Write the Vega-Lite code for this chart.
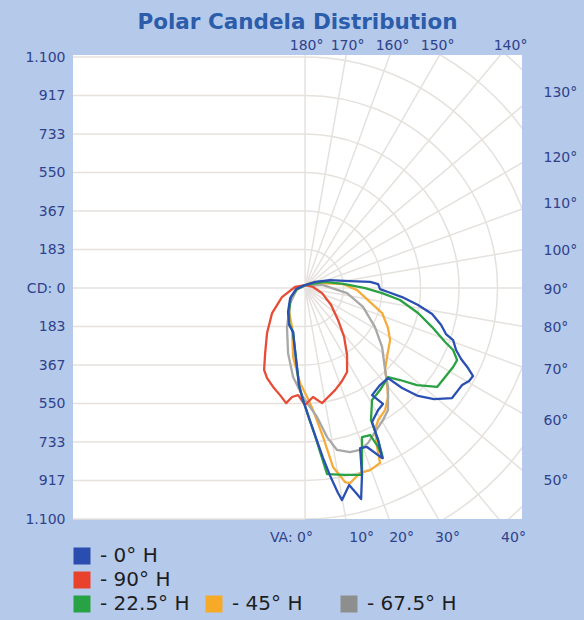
{
"$schema": "https://vega.github.io/schema/vega-lite/v6.json",
"width": 449, "height": 464,
"autosize": {"type": "none"},
"padding": {"left": 73, "top": 55, "right": 62, "bottom": 101},
"background": "#b5c9ea",
"title": {"text": "Polar Candela Distribution", "anchor": "middle", "font": "DejaVu Sans", "fontSize": 21.5, "fontWeight": "bold", "color": "#2b5dab", "offset": 5},
"resolve": {"axis": {"x": "independent", "y": "independent"}},
"datasets": {
"levels": [{"lvl": -1100, "x0": -1105, "x1": 0}, {"lvl": -916.67, "x0": -1105, "x1": 0}, {"lvl": -733.33, "x0": -1105, "x1": 0}, {"lvl": -550, "x0": -1105, "x1": 0}, {"lvl": -366.67, "x0": -1105, "x1": 0}, {"lvl": -183.33, "x0": -1105, "x1": 0}, {"lvl": 0, "x0": -1105, "x1": 0}, {"lvl": 183.33, "x0": -1105, "x1": 0}, {"lvl": 366.67, "x0": -1105, "x1": 0}, {"lvl": 550, "x0": -1105, "x1": 0}, {"lvl": 733.33, "x0": -1105, "x1": 0}, {"lvl": 916.67, "x0": -1105, "x1": 0}, {"lvl": 1100, "x0": -1105, "x1": 0}],
"arcs": [{"r": 183.33, "cx": 0, "cy": 0, "t0": 0, "t1": 180}, {"r": 366.67, "cx": 0, "cy": 0, "t0": 0, "t1": 180}, {"r": 550, "cx": 0, "cy": 0, "t0": 0, "t1": 180}, {"r": 733.33, "cx": 0, "cy": 0, "t0": 0, "t1": 180}, {"r": 916.67, "cx": 0, "cy": 0, "t0": 0, "t1": 180}, {"r": 1100, "cx": 0, "cy": 0, "t0": 0, "t1": 180}, {"r": 1283.33, "cx": 0, "cy": 0, "t0": 0, "t1": 180}, {"r": 1466.67, "cx": 0, "cy": 0, "t0": 0, "t1": 180}],
"rays": [{"va": 0, "x0": 0, "y0": 0, "ex": 0, "ey": -1600}, {"va": 10, "x0": 0, "y0": 0, "ex": 278, "ey": -1576}, {"va": 20, "x0": 0, "y0": 0, "ex": 547, "ey": -1504}, {"va": 30, "x0": 0, "y0": 0, "ex": 800, "ey": -1386}, {"va": 40, "x0": 0, "y0": 0, "ex": 1028, "ey": -1226}, {"va": 50, "x0": 0, "y0": 0, "ex": 1226, "ey": -1028}, {"va": 60, "x0": 0, "y0": 0, "ex": 1386, "ey": -800}, {"va": 70, "x0": 0, "y0": 0, "ex": 1504, "ey": -547}, {"va": 80, "x0": 0, "y0": 0, "ex": 1576, "ey": -278}, {"va": 90, "x0": 0, "y0": 0, "ex": 1600, "ey": 0}, {"va": 100, "x0": 0, "y0": 0, "ex": 1576, "ey": 278}, {"va": 110, "x0": 0, "y0": 0, "ex": 1504, "ey": 547}, {"va": 120, "x0": 0, "y0": 0, "ex": 1386, "ey": 800}, {"va": 130, "x0": 0, "y0": 0, "ex": 1226, "ey": 1028}, {"va": 140, "x0": 0, "y0": 0, "ex": 1028, "ey": 1226}, {"va": 150, "x0": 0, "y0": 0, "ex": 800, "ey": 1386}, {"va": 160, "x0": 0, "y0": 0, "ex": 547, "ey": 1504}, {"va": 170, "x0": 0, "y0": 0, "ex": 278, "ey": 1576}, {"va": 180, "x0": 0, "y0": 0, "ex": 0, "ey": 1600}],
"other": [
{"s": "45° H", "i": 0, "x": 24, "y": 24}, {"s": "45° H", "i": 1, "x": 95, "y": 24}, {"s": "45° H", "i": 2, "x": 181, "y": 19}, {"s": "45° H", "i": 3, "x": 248, "y": -10}, {"s": "45° H", "i": 4, "x": 310, "y": -67}, {"s": "45° H", "i": 5, "x": 367, "y": -119}, {"s": "45° H", "i": 6, "x": 395, "y": -190}, {"s": "45° H", "i": 7, "x": 405, "y": -248}, {"s": "45° H", "i": 8, "x": 390, "y": -329}, {"s": "45° H", "i": 9, "x": 381, "y": -390}, {"s": "45° H", "i": 10, "x": 390, "y": -452}, {"s": "45° H", "i": 11, "x": 395, "y": -519}, {"s": "45° H", "i": 12, "x": 381, "y": -581}, {"s": "45° H", "i": 13, "x": 348, "y": -629}, {"s": "45° H", "i": 14, "x": 333, "y": -676}, {"s": "45° H", "i": 15, "x": 343, "y": -757}, {"s": "45° H", "i": 16, "x": 357, "y": -833}, {"s": "45° H", "i": 17, "x": 310, "y": -867}, {"s": "45° H", "i": 18, "x": 262, "y": -881}, {"s": "45° H", "i": 19, "x": 214, "y": -929}, {"s": "45° H", "i": 20, "x": 190, "y": -924}, {"s": "45° H", "i": 21, "x": 133, "y": -852}, {"s": "45° H", "i": 22, "x": 86, "y": -710}, {"s": "45° H", "i": 23, "x": 38, "y": -581}, {"s": "45° H", "i": 24, "x": 10, "y": -519}, {"s": "45° H", "i": 25, "x": -24, "y": -452}, {"s": "45° H", "i": 26, "x": -57, "y": -329}, {"s": "45° H", "i": 27, "x": -62, "y": -186}, {"s": "45° H", "i": 28, "x": -76, "y": -114}, {"s": "45° H", "i": 29, "x": -71, "y": -57}, {"s": "45° H", "i": 30, "x": -38, "y": -5}, {"s": "45° H", "i": 31, "x": 24, "y": 24},
{"s": "67.5° H", "i": 0, "x": 0, "y": 14}, {"s": "67.5° H", "i": 1, "x": 86, "y": 14}, {"s": "67.5° H", "i": 2, "x": 200, "y": -24}, {"s": "67.5° H", "i": 3, "x": 276, "y": -90}, {"s": "67.5° H", "i": 4, "x": 333, "y": -186}, {"s": "67.5° H", "i": 5, "x": 367, "y": -281}, {"s": "67.5° H", "i": 6, "x": 381, "y": -390}, {"s": "67.5° H", "i": 7, "x": 395, "y": -471}, {"s": "67.5° H", "i": 8, "x": 395, "y": -581}, {"s": "67.5° H", "i": 9, "x": 371, "y": -629}, {"s": "67.5° H", "i": 10, "x": 333, "y": -686}, {"s": "67.5° H", "i": 11, "x": 300, "y": -738}, {"s": "67.5° H", "i": 12, "x": 262, "y": -771}, {"s": "67.5° H", "i": 13, "x": 214, "y": -781}, {"s": "67.5° H", "i": 14, "x": 152, "y": -771}, {"s": "67.5° H", "i": 15, "x": 105, "y": -710}, {"s": "67.5° H", "i": 16, "x": 57, "y": -614}, {"s": "67.5° H", "i": 17, "x": -10, "y": -519}, {"s": "67.5° H", "i": 18, "x": -57, "y": -424}, {"s": "67.5° H", "i": 19, "x": -81, "y": -310}, {"s": "67.5° H", "i": 20, "x": -86, "y": -186}, {"s": "67.5° H", "i": 21, "x": -71, "y": -71}, {"s": "67.5° H", "i": 22, "x": -38, "y": -5}, {"s": "67.5° H", "i": 23, "x": 0, "y": 14}
],
"main": [
{"s": "90° H", "i": 0, "x": 0, "y": 14}, {"s": "90° H", "i": 1, "x": -48, "y": 5}, {"s": "90° H", "i": 2, "x": -110, "y": -43}, {"s": "90° H", "i": 3, "x": -157, "y": -119}, {"s": "90° H", "i": 4, "x": -181, "y": -214}, {"s": "90° H", "i": 5, "x": -190, "y": -310}, {"s": "90° H", "i": 6, "x": -195, "y": -390}, {"s": "90° H", "i": 7, "x": -181, "y": -429}, {"s": "90° H", "i": 8, "x": -152, "y": -471}, {"s": "90° H", "i": 9, "x": -119, "y": -510}, {"s": "90° H", "i": 10, "x": -90, "y": -548}, {"s": "90° H", "i": 11, "x": -62, "y": -519}, {"s": "90° H", "i": 12, "x": -33, "y": -510}, {"s": "90° H", "i": 13, "x": 0, "y": -557}, {"s": "90° H", "i": 14, "x": 38, "y": -519}, {"s": "90° H", "i": 15, "x": 81, "y": -548}, {"s": "90° H", "i": 16, "x": 110, "y": -519}, {"s": "90° H", "i": 17, "x": 143, "y": -486}, {"s": "90° H", "i": 18, "x": 176, "y": -443}, {"s": "90° H", "i": 19, "x": 200, "y": -400}, {"s": "90° H", "i": 20, "x": 200, "y": -319}, {"s": "90° H", "i": 21, "x": 186, "y": -233}, {"s": "90° H", "i": 22, "x": 157, "y": -152}, {"s": "90° H", "i": 23, "x": 124, "y": -81}, {"s": "90° H", "i": 24, "x": 81, "y": -24}, {"s": "90° H", "i": 25, "x": 38, "y": 5}, {"s": "90° H", "i": 26, "x": 0, "y": 14},
{"s": "22.5° H", "i": 0, "x": 0, "y": 14}, {"s": "22.5° H", "i": 1, "x": -38, "y": -5}, {"s": "22.5° H", "i": 2, "x": -67, "y": -43}, {"s": "22.5° H", "i": 3, "x": -76, "y": -105}, {"s": "22.5° H", "i": 4, "x": -76, "y": -167}, {"s": "22.5° H", "i": 5, "x": -57, "y": -210}, {"s": "22.5° H", "i": 6, "x": -48, "y": -295}, {"s": "22.5° H", "i": 7, "x": -38, "y": -381}, {"s": "22.5° H", "i": 8, "x": -29, "y": -462}, {"s": "22.5° H", "i": 9, "x": -10, "y": -533}, {"s": "22.5° H", "i": 10, "x": 19, "y": -619}, {"s": "22.5° H", "i": 11, "x": 48, "y": -705}, {"s": "22.5° H", "i": 12, "x": 76, "y": -795}, {"s": "22.5° H", "i": 13, "x": 105, "y": -886}, {"s": "22.5° H", "i": 14, "x": 190, "y": -890}, {"s": "22.5° H", "i": 15, "x": 271, "y": -890}, {"s": "22.5° H", "i": 16, "x": 271, "y": -795}, {"s": "22.5° H", "i": 17, "x": 271, "y": -710}, {"s": "22.5° H", "i": 18, "x": 310, "y": -700}, {"s": "22.5° H", "i": 19, "x": 348, "y": -757}, {"s": "22.5° H", "i": 20, "x": 371, "y": -810}, {"s": "22.5° H", "i": 21, "x": 348, "y": -724}, {"s": "22.5° H", "i": 22, "x": 314, "y": -629}, {"s": "22.5° H", "i": 23, "x": 319, "y": -533}, {"s": "22.5° H", "i": 24, "x": 357, "y": -486}, {"s": "22.5° H", "i": 25, "x": 395, "y": -424}, {"s": "22.5° H", "i": 26, "x": 452, "y": -438}, {"s": "22.5° H", "i": 27, "x": 533, "y": -462}, {"s": "22.5° H", "i": 28, "x": 629, "y": -471}, {"s": "22.5° H", "i": 29, "x": 667, "y": -424}, {"s": "22.5° H", "i": 30, "x": 705, "y": -376}, {"s": "22.5° H", "i": 31, "x": 724, "y": -343}, {"s": "22.5° H", "i": 32, "x": 705, "y": -295}, {"s": "22.5° H", "i": 33, "x": 667, "y": -257}, {"s": "22.5° H", "i": 34, "x": 605, "y": -186}, {"s": "22.5° H", "i": 35, "x": 538, "y": -119}, {"s": "22.5° H", "i": 36, "x": 452, "y": -57}, {"s": "22.5° H", "i": 37, "x": 367, "y": -24}, {"s": "22.5° H", "i": 38, "x": 286, "y": 0}, {"s": "22.5° H", "i": 39, "x": 190, "y": 19}, {"s": "22.5° H", "i": 40, "x": 95, "y": 29}, {"s": "22.5° H", "i": 41, "x": 24, "y": 19}, {"s": "22.5° H", "i": 42, "x": 0, "y": 14},
{"s": "0° H", "i": 0, "x": 0, "y": 14}, {"s": "0° H", "i": 1, "x": -43, "y": -5}, {"s": "0° H", "i": 2, "x": -71, "y": -48}, {"s": "0° H", "i": 3, "x": -81, "y": -114}, {"s": "0° H", "i": 4, "x": -76, "y": -176}, {"s": "0° H", "i": 5, "x": -57, "y": -210}, {"s": "0° H", "i": 6, "x": -48, "y": -295}, {"s": "0° H", "i": 7, "x": -38, "y": -381}, {"s": "0° H", "i": 8, "x": -29, "y": -462}, {"s": "0° H", "i": 9, "x": -10, "y": -533}, {"s": "0° H", "i": 10, "x": 19, "y": -619}, {"s": "0° H", "i": 11, "x": 52, "y": -714}, {"s": "0° H", "i": 12, "x": 86, "y": -810}, {"s": "0° H", "i": 13, "x": 124, "y": -905}, {"s": "0° H", "i": 14, "x": 157, "y": -976}, {"s": "0° H", "i": 15, "x": 176, "y": -1010}, {"s": "0° H", "i": 16, "x": 210, "y": -938}, {"s": "0° H", "i": 17, "x": 243, "y": -976}, {"s": "0° H", "i": 18, "x": 267, "y": -1005}, {"s": "0° H", "i": 19, "x": 271, "y": -890}, {"s": "0° H", "i": 20, "x": 262, "y": -762}, {"s": "0° H", "i": 21, "x": 295, "y": -757}, {"s": "0° H", "i": 22, "x": 367, "y": -810}, {"s": "0° H", "i": 23, "x": 348, "y": -724}, {"s": "0° H", "i": 24, "x": 319, "y": -638}, {"s": "0° H", "i": 25, "x": 348, "y": -581}, {"s": "0° H", "i": 26, "x": 371, "y": -552}, {"s": "0° H", "i": 27, "x": 319, "y": -510}, {"s": "0° H", "i": 28, "x": 357, "y": -462}, {"s": "0° H", "i": 29, "x": 395, "y": -429}, {"s": "0° H", "i": 30, "x": 462, "y": -476}, {"s": "0° H", "i": 31, "x": 538, "y": -514}, {"s": "0° H", "i": 32, "x": 614, "y": -529}, {"s": "0° H", "i": 33, "x": 700, "y": -524}, {"s": "0° H", "i": 34, "x": 729, "y": -486}, {"s": "0° H", "i": 35, "x": 748, "y": -462}, {"s": "0° H", "i": 36, "x": 781, "y": -443}, {"s": "0° H", "i": 37, "x": 800, "y": -419}, {"s": "0° H", "i": 38, "x": 776, "y": -381}, {"s": "0° H", "i": 39, "x": 743, "y": -338}, {"s": "0° H", "i": 40, "x": 719, "y": -295}, {"s": "0° H", "i": 41, "x": 705, "y": -248}, {"s": "0° H", "i": 42, "x": 671, "y": -219}, {"s": "0° H", "i": 43, "x": 648, "y": -176}, {"s": "0° H", "i": 44, "x": 605, "y": -124}, {"s": "0° H", "i": 45, "x": 538, "y": -81}, {"s": "0° H", "i": 46, "x": 462, "y": -43}, {"s": "0° H", "i": 47, "x": 395, "y": -19}, {"s": "0° H", "i": 48, "x": 357, "y": -5}, {"s": "0° H", "i": 49, "x": 348, "y": 19}, {"s": "0° H", "i": 50, "x": 310, "y": 29}, {"s": "0° H", "i": 51, "x": 214, "y": 33}, {"s": "0° H", "i": 52, "x": 119, "y": 38}, {"s": "0° H", "i": 53, "x": 48, "y": 29}, {"s": "0° H", "i": 54, "x": 0, "y": 14}
]
},
"layer": [
{"data": {"name": "levels"}, "mark": {"type": "rule", "stroke": "#e5e1dd", "strokeWidth": 1.5},
 "encoding": {
  "y": {"field": "lvl", "type": "quantitative", "scale": {"domain": [-1100, 1110], "nice": false, "zero": false}, "axis": null},
  "x": {"field": "x0", "type": "quantitative", "scale": {"domain": [-1105, 1033], "nice": false, "zero": false}, "axis": null},
  "x2": {"field": "x1"}}},
{"data": {"name": "rays"}, "mark": {"type": "rule", "stroke": "#e5e1dd", "strokeWidth": 1.5, "clip": true},
 "encoding": {
  "x": {"field": "x0", "type": "quantitative", "axis": null},
  "y": {"field": "y0", "type": "quantitative", "axis": null},
  "x2": {"field": "ex"},
  "y2": {"field": "ey"}}},
{"data": {"name": "arcs"}, "mark": {"type": "arc", "filled": false, "stroke": "#e5e1dd", "strokeWidth": 1.5, "clip": true},
 "encoding": {
  "x": {"field": "cx", "type": "quantitative", "axis": null},
  "y": {"field": "cy", "type": "quantitative", "axis": null},
  "theta": {"field": "t0", "type": "quantitative", "scale": {"type": "linear", "domain": [0, 360], "range": [0, 6.283185], "zero": true, "nice": false}},
  "theta2": {"field": "t1"},
  "radius": {"field": "r", "type": "quantitative", "scale": {"type": "linear", "domain": [0, 1100], "range": [0, 231], "zero": true, "nice": false}},
  "radius2": {"field": "r"}}},
{"data": {"name": "other"}, "mark": {"type": "line", "strokeWidth": 2.3, "strokeJoin": "round"},
 "encoding": {
  "x": {"field": "x", "type": "quantitative", "axis": {"orient": "top", "values": [5, 200, 414, 629, 976], "labelPadding": 3, "labelExpr": "datum.value < 100 ? '180°' : datum.value < 300 ? '170°' : datum.value < 500 ? '160°' : datum.value < 800 ? '150°' : '140°'"}},
  "y": {"field": "y", "type": "quantitative", "axis": {"orient": "right", "values": [933, 624, 405, 181, -5, -186, -390, -629, -919], "labelPadding": 21, "labelExpr": "datum.value > 800 ? '130°' : datum.value > 500 ? '120°' : datum.value > 300 ? '110°' : datum.value > 100 ? '100°' : datum.value > -100 ? '90°' : datum.value > -300 ? '80°' : datum.value > -500 ? '70°' : datum.value > -800 ? '60°' : '50°'"}},
  "order": {"field": "i", "type": "quantitative"},
  "stroke": {"field": "s", "type": "nominal", "scale": {"domain": ["0° H", "90° H", "22.5° H", "45° H", "67.5° H"], "range": ["#2b50b3", "#e74c36", "#2aa142", "#f5ac3a", "#a8a8a8"]}, "legend": null}}},
{"data": {"name": "main"}, "mark": {"type": "line", "strokeWidth": 2.3, "strokeJoin": "round"},
 "encoding": {
  "x": {"field": "x", "type": "quantitative", "axis": {"orient": "bottom", "values": [-67, 267, 457, 676, 990], "labelPadding": 11, "labelExpr": "datum.value < 0 ? 'VA: 0°' : datum.value < 300 ? '10°' : datum.value < 550 ? '20°' : datum.value < 800 ? '30°' : '40°'"}},
  "y": {"field": "y", "type": "quantitative", "axis": {"orient": "left", "values": [-1100, -916.67, -733.33, -550, -366.67, -183.33, 0, 183.33, 366.67, 550, 733.33, 916.67, 1100], "labelPadding": 8, "labelExpr": "datum.value == 0 ? 'CD: 0' : abs(datum.value) > 1000 ? '1.100' : format(abs(datum.value), '.0f')"}},
  "order": {"field": "i", "type": "quantitative"},
  "stroke": {"field": "s", "type": "nominal", "legend": null}}},
{"data": {"name": "main"}, "transform": [{"filter": "false"}], "mark": {"type": "square", "filled": true, "size": 289},
 "encoding": {
  "x": {"field": "x", "type": "quantitative", "axis": null},
  "y": {"field": "y", "type": "quantitative", "axis": null},
  "fill": {"field": "s", "type": "nominal", "scale": {"domain": ["0° H", "90° H", "22.5° H"], "range": ["#2a4db0", "#e8412c", "#27a244"]},
   "legend": {"orient": "none", "legendX": -1, "legendY": 491, "direction": "vertical", "columns": 1, "title": null, "symbolType": "square", "symbolSize": 289, "symbolStrokeWidth": 0, "symbolOpacity": 1, "labelFontSize": 20, "labelFont": "DejaVu Sans", "labelColor": "#1e1e1e", "labelOffset": 8, "rowPadding": 4, "padding": 0, "labelExpr": "'- ' + datum.label"}}}},
{"data": {"name": "other"}, "transform": [{"filter": "false"}], "mark": {"type": "square", "filled": true, "size": 289},
 "encoding": {
  "x": {"field": "x", "type": "quantitative", "axis": null},
  "y": {"field": "y", "type": "quantitative", "axis": null},
  "color": {"field": "s", "type": "nominal", "scale": {"domain": ["45° H", "67.5° H"], "range": ["#f7a928", "#8e8e8e"]},
   "legend": {"orient": "none", "legendX": 131, "legendY": 539, "direction": "horizontal", "title": null, "symbolType": "square", "symbolSize": 289, "symbolStrokeWidth": 0, "symbolOpacity": 1, "labelFontSize": 20, "labelFont": "DejaVu Sans", "labelColor": "#1e1e1e", "labelOffset": 8, "columnPadding": 36, "padding": 0, "labelExpr": "'- ' + datum.label"}}}}
],
"config": {
 "view": {"stroke": null, "fill": "white"},
 "axis": {"domain": false, "ticks": false, "grid": false, "title": null, "labelFont": "DejaVu Sans", "labelFontSize": 14, "labelColor": "#2f428a", "labelOverlap": false, "labelFlush": false, "labelBound": false}
}
}
